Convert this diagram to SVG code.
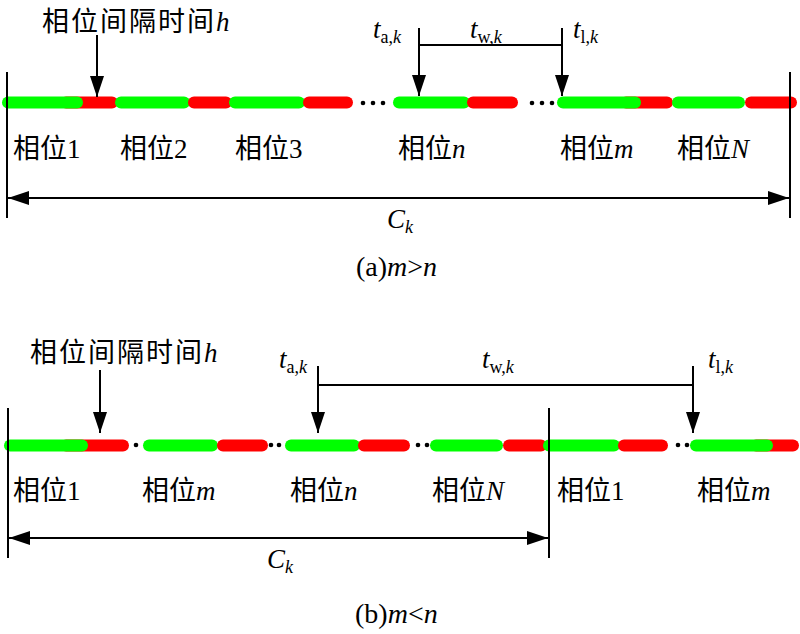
<svg xmlns="http://www.w3.org/2000/svg" width="800" height="634" viewBox="0 0 800 634">
<defs>
<marker id="ah" markerUnits="userSpaceOnUse" markerWidth="21" markerHeight="14" refX="21" refY="7" orient="auto-start-reverse"><path d="M0,0 L21,7 L0,14 Z" fill="#000"/></marker>
<style>
.g{stroke:#00ff00;stroke-width:12;stroke-linecap:round;fill:none}
.r{stroke:#ff0000;stroke-width:12;stroke-linecap:round;fill:none}
.ln{stroke:#000;stroke-width:2;fill:none}
.ar{stroke:#000;stroke-width:2;fill:none;marker-end:url(#ah)}
.dar{stroke:#000;stroke-width:2;fill:none;marker-start:url(#ah);marker-end:url(#ah)}
.dot{fill:#000}
text{font-family:"Liberation Serif","Noto Sans CJK SC",serif;fill:#000}
.lb{font-size:27px}
.hd{font-size:27px;letter-spacing:2px}
.mt{font-size:27px}
.it{font-style:italic}
.sub{font-size:18px}
</style>
</defs>
<rect width="800" height="634" fill="#fff"/>

<!-- Panel (a) -->
<g id="bar-a">
<line class="r" x1="66" y1="102.5" x2="112" y2="102.5"/>
<line class="g" x1="8" y1="102.5" x2="77" y2="102.5"/>
<line class="g" x1="121" y1="102.5" x2="184" y2="102.5"/>
<line class="r" x1="194" y1="102.5" x2="226" y2="102.5"/>
<line class="g" x1="235" y1="102.5" x2="299" y2="102.5"/>
<line class="r" x1="309" y1="102.5" x2="347" y2="102.5"/>
<line class="g" x1="399" y1="102.5" x2="464" y2="102.5"/>
<line class="r" x1="473" y1="102.5" x2="512" y2="102.5"/>
<line class="r" x1="626" y1="102.5" x2="667" y2="102.5"/>
<line class="g" x1="563" y1="102.5" x2="635" y2="102.5"/>
<line class="g" x1="678" y1="102.5" x2="739" y2="102.5"/>
<line class="r" x1="751" y1="102.5" x2="791" y2="102.5"/>
<circle class="dot" cx="363" cy="103" r="2.3"/>
<circle class="dot" cx="373" cy="103" r="2.3"/>
<circle class="dot" cx="383" cy="103" r="2.3"/>
<circle class="dot" cx="532" cy="103" r="2.3"/>
<circle class="dot" cx="542" cy="103" r="2.3"/>
<circle class="dot" cx="552" cy="103" r="2.3"/>
</g>
<g id="bounds-a">
<line class="ln" x1="7" y1="72" x2="7" y2="218"/>
<line class="ln" x1="790" y1="72" x2="790" y2="218"/>
</g>
<g id="labels-a">
<text class="hd" x="42" y="31">相位间隔时间<tspan class="it">h</tspan></text>
<text class="mt" x="373" y="38"><tspan class="it">t</tspan><tspan class="sub" dy="5">a,</tspan><tspan class="sub it">k</tspan></text>
<text class="mt" x="470" y="38"><tspan class="it">t</tspan><tspan class="sub" dy="5">w,</tspan><tspan class="sub it">k</tspan></text>
<text class="mt" x="573" y="38"><tspan class="it">t</tspan><tspan class="sub" dy="5">l,</tspan><tspan class="sub it">k</tspan></text>
<text class="lb" x="13" y="158">相位1</text>
<text class="lb" x="120" y="158">相位2</text>
<text class="lb" x="235" y="158">相位3</text>
<text class="lb" x="398" y="158">相位<tspan class="it">n</tspan></text>
<text class="lb" x="560" y="158">相位<tspan class="it">m</tspan></text>
<text class="lb" x="677" y="158">相位<tspan class="it">N</tspan></text>
<text class="mt" x="387" y="228"><tspan class="it">C</tspan><tspan class="sub it" dy="5">k</tspan></text>
<text class="lb" x="356" y="276" style="font-size:28px">(a)<tspan class="it">m</tspan>&gt;<tspan class="it">n</tspan></text>
</g>

<!-- Panel (b) -->
<g id="bar-b">
<line class="r" x1="66" y1="445.5" x2="123" y2="445.5"/>
<line class="g" x1="10" y1="445.5" x2="82" y2="445.5"/>
<line class="g" x1="149" y1="445.5" x2="212" y2="445.5"/>
<line class="r" x1="223" y1="445.5" x2="262" y2="445.5"/>
<line class="g" x1="291" y1="445.5" x2="354" y2="445.5"/>
<line class="r" x1="364" y1="445.5" x2="404" y2="445.5"/>
<line class="g" x1="436" y1="445.5" x2="497" y2="445.5"/>
<line class="r" x1="509" y1="445.5" x2="541" y2="445.5"/>
<line class="g" x1="549" y1="445.5" x2="614" y2="445.5"/>
<line class="r" x1="624" y1="445.5" x2="662" y2="445.5"/>
<line class="r" x1="756" y1="445.5" x2="793" y2="445.5"/>
<line class="g" x1="696" y1="445.5" x2="767" y2="445.5"/>
<circle class="dot" cx="136" cy="445" r="2.3"/>
<circle class="dot" cx="271" cy="445" r="2.3"/>
<circle class="dot" cx="279" cy="445" r="2.3"/>
<circle class="dot" cx="418" cy="445" r="2.3"/>
<circle class="dot" cx="427" cy="445" r="2.3"/>
<circle class="dot" cx="678" cy="445" r="2.3"/>
<circle class="dot" cx="687" cy="445" r="2.3"/>
</g>
<g id="bounds-b">
<line class="ln" x1="8" y1="408" x2="8" y2="558"/>
<line class="ln" x1="549" y1="408" x2="549" y2="558"/>
</g>
<g id="labels-b">
<text class="hd" x="30" y="362">相位间隔时间<tspan class="it">h</tspan></text>
<text class="mt" x="279" y="368"><tspan class="it">t</tspan><tspan class="sub" dy="5">a,</tspan><tspan class="sub it">k</tspan></text>
<text class="mt" x="482" y="368"><tspan class="it">t</tspan><tspan class="sub" dy="5">w,</tspan><tspan class="sub it">k</tspan></text>
<text class="mt" x="708" y="368"><tspan class="it">t</tspan><tspan class="sub" dy="5">l,</tspan><tspan class="sub it">k</tspan></text>
<text class="lb" x="13" y="500">相位1</text>
<text class="lb" x="142" y="500">相位<tspan class="it">m</tspan></text>
<text class="lb" x="290" y="500">相位<tspan class="it">n</tspan></text>
<text class="lb" x="432" y="500">相位<tspan class="it">N</tspan></text>
<text class="lb" x="557" y="500">相位1</text>
<text class="lb" x="697" y="500">相位<tspan class="it">m</tspan></text>
<text class="mt" x="267" y="568"><tspan class="it">C</tspan><tspan class="sub it" dy="5">k</tspan></text>
<text class="lb" x="355" y="623" style="font-size:28px">(b)<tspan class="it">m</tspan>&lt;<tspan class="it">n</tspan></text>
</g>

<g id="connectors">
<line class="ar" x1="97" y1="35" x2="97" y2="97"/>
<line class="ar" x1="419" y1="28" x2="419" y2="96"/>
<line class="ln" x1="419" y1="45" x2="562" y2="45"/>
<line class="ar" x1="562" y1="28" x2="562" y2="96"/>
<line class="dar" x1="8" y1="198" x2="789" y2="198"/>
<line class="ar" x1="100" y1="370" x2="100" y2="433"/>
<line class="ar" x1="318" y1="366" x2="318" y2="433"/>
<line class="ln" x1="318" y1="385" x2="693" y2="385"/>
<line class="ar" x1="693" y1="366" x2="693" y2="433"/>
<line class="dar" x1="9" y1="538" x2="548" y2="538"/>
</g>
</svg>
